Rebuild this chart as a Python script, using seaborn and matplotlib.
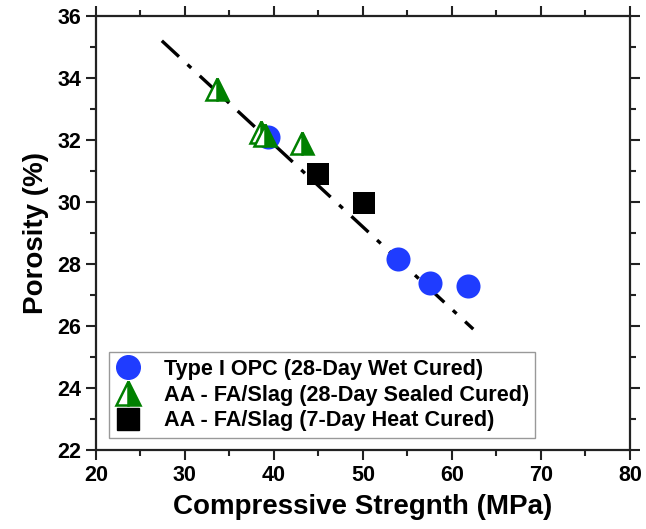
import numpy as np
import pandas as pd
import seaborn as sns
import matplotlib.pyplot as plt
from matplotlib.ticker import MultipleLocator
from matplotlib.lines import Line2D

# Data
opc_strength = [39.3, 53.9, 57.5, 61.8]
opc_porosity = [32.1, 28.15, 27.4, 27.3]

sealed_strength = [33.6, 38.6, 39.0, 43.1]
sealed_porosity = [33.65, 32.25, 32.15, 31.9]

heat_strength = [44.9, 50.1]
heat_porosity = [30.9, 29.97]

fit_x = [27.4, 62.4]
fit_y = [35.2, 25.9]

labels = ["Type I OPC (28-Day Wet Cured)",
          "AA - FA/Slag (28-Day Sealed Cured)",
          "AA - FA/Slag (7-Day Heat Cured)"]

sns.set_style("white")
plt.rcParams['font.family'] = ['Liberation Sans', 'DejaVu Sans']
plt.rcParams['font.weight'] = 'bold'
plt.rcParams['text.color'] = 'black'
plt.rcParams['axes.labelcolor'] = 'black'

fig = plt.figure(figsize=(6.46, 5.29), dpi=100)
ax = fig.add_axes([0.1486, 0.1493, 0.8264, 0.8205])

# Fit line
ax.plot(fit_x, fit_y, color='black', linestyle=(0, (7, 3.5, 1.5, 3.5)), linewidth=2.4, zorder=2)

# Circles and squares via seaborn
df_opc = pd.DataFrame({'x': opc_strength, 'y': opc_porosity})
df_heat = pd.DataFrame({'x': heat_strength, 'y': heat_porosity})
sns.scatterplot(data=df_opc, x='x', y='y', ax=ax, color='#1f3cff', marker='o',
                s=300, edgecolor='#1f3cff', linewidth=0, zorder=3)
sns.scatterplot(data=df_heat, x='x', y='y', ax=ax, color='black', marker='s',
                s=260, edgecolor='black', linewidth=0, zorder=3)

# Half-filled triangles
ax.plot(sealed_strength, sealed_porosity, linestyle='none', marker='^', markersize=16,
        color='green', markerfacecolor='green', markerfacecoloralt='white',
        fillstyle='right', markeredgecolor='green', markeredgewidth=1.8, zorder=3)

ax.set_xlim(20, 80)
ax.set_ylim(22, 36)
ax.xaxis.set_major_locator(MultipleLocator(10))
ax.xaxis.set_minor_locator(MultipleLocator(5))
ax.yaxis.set_major_locator(MultipleLocator(2))
ax.yaxis.set_minor_locator(MultipleLocator(1))

ax.tick_params(which='both', direction='out', top=True, right=True,
               bottom=True, left=True, width=1.5, colors='#222222',
               labelcolor='black')
ax.tick_params(which='major', length=7, labelsize=15.5)
ax.tick_params(which='minor', length=4)
ax.tick_params(labeltop=False, labelright=False)
for lab in ax.get_xticklabels() + ax.get_yticklabels():
    lab.set_fontweight('bold')

for sp in ax.spines.values():
    sp.set_linewidth(1.6)
    sp.set_color('#222222')

ax.set_xlabel('Compressive Stregnth (MPa)', fontsize=20, fontweight='bold', labelpad=6)
ax.set_ylabel('Porosity (%)', fontsize=20, fontweight='bold', labelpad=6)

handles = [
    Line2D([], [], linestyle='none', marker='o', markersize=17, color='#1f3cff'),
    Line2D([], [], linestyle='none', marker='^', markersize=17, color='green',
           markerfacecolor='green', markerfacecoloralt='white', fillstyle='right',
           markeredgewidth=1.8),
    Line2D([], [], linestyle='none', marker='s', markersize=16, color='black'),
]
leg = ax.legend(handles, labels, loc='lower left', bbox_to_anchor=(0.005, 0.003),
                fancybox=False, framealpha=1, edgecolor='#999999',
                handletextpad=1.1, handlelength=1.1, borderpad=0.3, labelspacing=0.22,
                prop={'weight': 'bold', 'size': 15.6})
leg.get_frame().set_linewidth(1.0)

fig.savefig('out.png', dpi=100)
